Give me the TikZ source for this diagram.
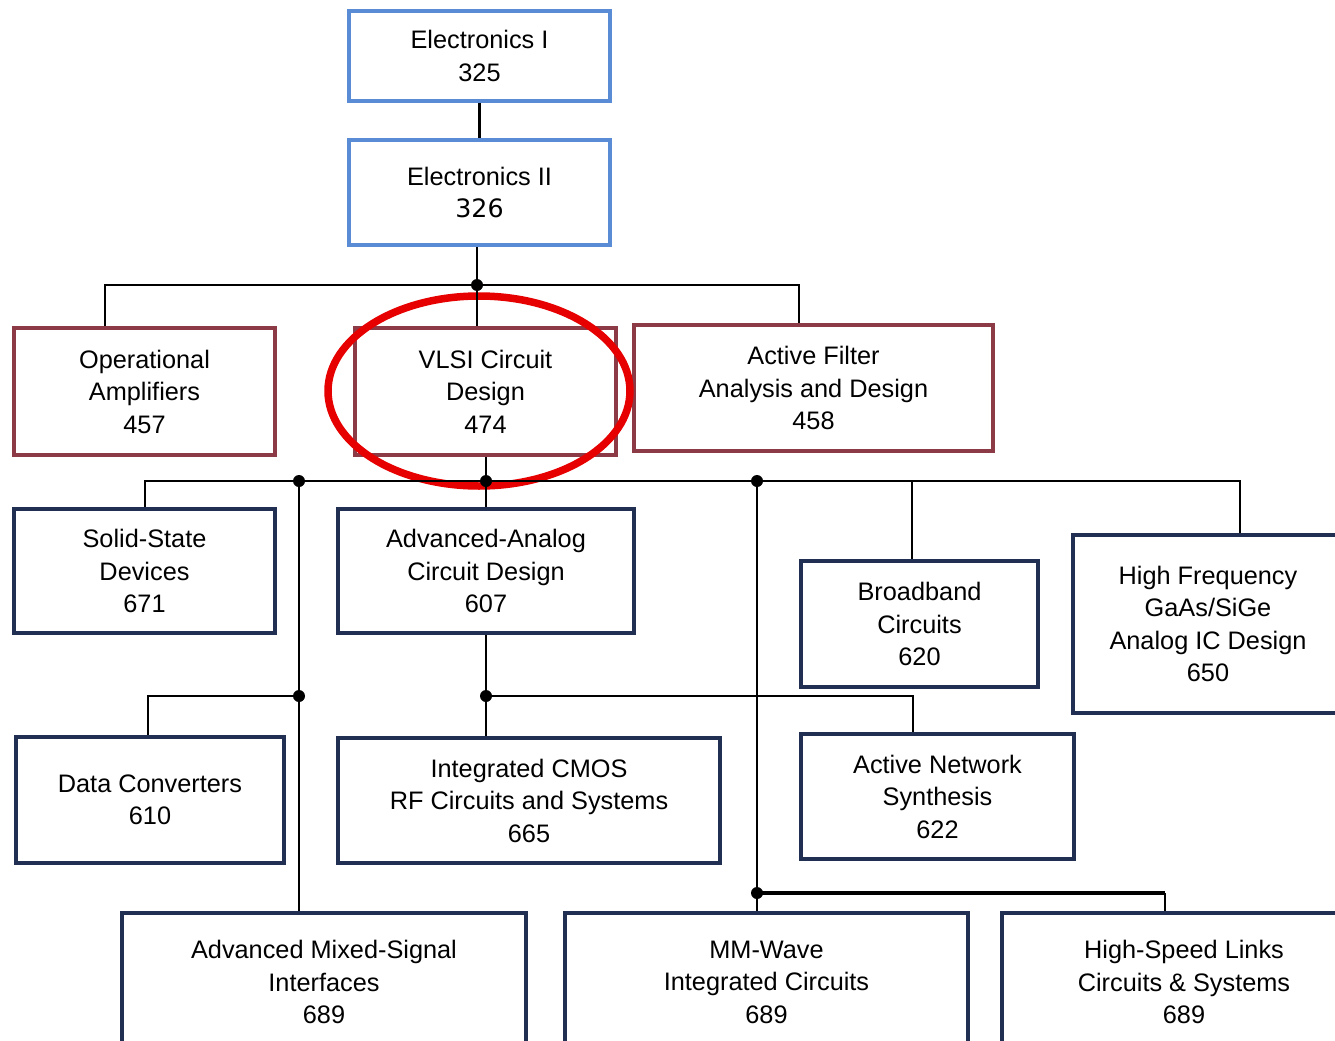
\documentclass[tikz,border=0pt]{standalone}
\usepackage{fontspec}
\setmainfont{Liberation Sans}
\newfontfamily\numfont{DejaVu Sans}
\definecolor{ecblue}{RGB}{90,140,214}
\definecolor{ecred}{RGB}{140,58,70}
\definecolor{ecnavy}{RGB}{33,48,82}
\definecolor{ecring}{RGB}{230,0,0}

\tikzset{
    course/.style={draw, line width=0.4mm, fill=white, align=center, inner sep=0pt,
        font=\fontsize{7.2pt}{9.25pt}\selectfont},
    basic/.style={course, draw=ecblue},
    core/.style={course, draw=ecred},
    grad/.style={course, draw=ecnavy},
    wire/.style={line width=0.22mm},
    bus/.style={line width=0.45mm},
    ring/.style={draw=ecring, line width=0.75mm}
}

\begin{document}
\begin{tikzpicture}[x=0.1mm, y=-0.1mm]
    \useasboundingbox (0,0) rectangle (1335,1041);

    % first year
    \node[basic, minimum width=26.1mm, minimum height=9.0mm] (e1) at (479.5,56) {Electronics I\\325};
    \node[basic, minimum width=26.1mm, minimum height=10.5mm] (e2) at (479.5,192.5) {Electronics II\\{\numfont 326}};

    % 400 level
    \node[core, minimum width=26.1mm, minimum height=12.7mm] (opamp) at (144.5,391.5) {Operational\\Amplifiers\\457};
    \node[core, minimum width=26.1mm, minimum height=12.7mm] (vlsi) at (485.5,391.5) {VLSI Circuit\\Design\\474};
    \node[core, minimum width=35.9mm, minimum height=12.6mm] (filter) at (813.5,388) {Active Filter\\Analysis and Design\\458};

    % 600 level
    \node[grad, minimum width=26.1mm, minimum height=12.4mm] (ssd) at (144.5,571) {Solid-State\\Devices\\671};
    \node[grad, minimum width=29.6mm, minimum height=12.4mm] (aac) at (486,571) {Advanced-Analog\\Circuit Design\\607};
    \node[grad, minimum width=23.7mm, minimum height=12.6mm] (broad) at (919.5,624) {Broadband\\Circuits\\620};
    \node[grad, minimum width=27.0mm, minimum height=17.8mm] (hf) at (1208,624) {High Frequency\\GaAs/SiGe\\Analog IC Design\\650};
    \node[grad, minimum width=26.8mm, minimum height=12.6mm] (dc) at (150,800) {Data Converters\\610};
    \node[grad, minimum width=38.2mm, minimum height=12.5mm] (cmos) at (529,800.5) {Integrated CMOS\\RF Circuits and Systems\\665};
    \node[grad, minimum width=27.3mm, minimum height=12.5mm] (ans) at (937.5,796.5) {Active Network\\Synthesis\\622};
    \node[grad, minimum width=40.4mm, minimum height=13.8mm] (ams) at (324,982) {Advanced Mixed-Signal\\Interfaces\\689};
    \node[grad, minimum width=40.3mm, minimum height=13.8mm] (mmw) at (766.5,982) {MM-Wave\\Integrated Circuits\\689};
    \node[grad, minimum width=36.4mm, minimum height=13.8mm] (hsl) at (1184,982) {High-Speed Links\\Circuits \& Systems\\689};

    % highlight
    \draw[ring] (479,391) ellipse [x radius=15.1mm, y radius=9.5mm];

    % junctions
    \coordinate (j1) at (477,285);
    \coordinate (j2) at (486,481);
    \coordinate (ja) at (299,481);
    \coordinate (jb) at (757,481);
    \coordinate (jc) at (299,696);
    \coordinate (jd) at (486,696);
    \coordinate (je) at (757,893);
    \coordinate (b1l) at (105,285);
    \coordinate (b1r) at (799,285);
    \coordinate (b2l) at (145,481);
    \coordinate (b2r) at (1240,481);
    \coordinate (b2m) at (912,481);
    \coordinate (b3) at (148,696);
    \coordinate (b4) at (913,696);
    \coordinate (b5) at (1165,893);

    \draw[wire] (e1) -- (e2);
    \draw[wire] (j1 |- e2.south) -- (j1) -- (j1 |- vlsi.north);
    \draw[wire] (b1l |- opamp.north) -- (b1l) -- (b1r) -- (b1r |- filter.north);

    \draw[wire] (j2 |- vlsi.south) -- (j2) -- (j2 |- aac.north);
    \draw[wire] (b2l |- ssd.north) -- (b2l) -- (b2r) -- (b2r |- hf.north);
    \draw[wire] (b2m) -- (b2m |- broad.north);

    \draw[wire] (ja) -- (ja |- ams.north);
    \draw[wire] (jc) -- (b3) -- (b3 |- dc.north);

    \draw[wire] (jd |- aac.south) -- (jd) -- (jd |- cmos.north);
    \draw[wire] (jd) -- (b4) -- (b4 |- ans.north);

    \draw[wire] (jb) -- (je) -- (je |- mmw.north);
    \draw[bus] (je) -- (b5);
    \draw[wire] (b5) -- (b5 |- hsl.north);

    \foreach \j in {j1,j2,ja,jb,jc,jd,je}
        \fill (\j) circle (0.6mm);
\end{tikzpicture}
\end{document}
